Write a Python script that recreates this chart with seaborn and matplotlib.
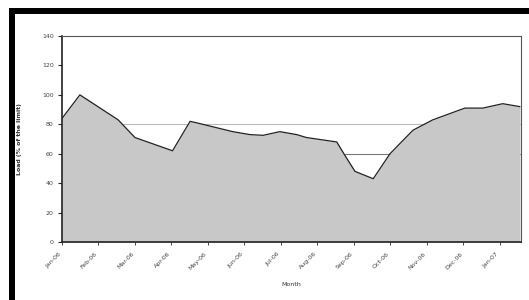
import numpy as np
import pandas as pd
import matplotlib
matplotlib.use("Agg")
import matplotlib.pyplot as plt
import seaborn as sns
from matplotlib.patches import Rectangle

# data (x in months from start, y in % of limit)
months = [0.0, 0.49, 1.54, 2.0, 3.03, 3.51, 3.69, 4.68, 5.15, 5.51, 5.97, 6.43,
          6.7, 7.53, 7.75, 8.03, 8.53, 8.99, 9.62, 10.16, 11.04, 11.53, 12.08, 12.55]
load = [84, 100, 83, 71, 62, 82, 81, 75, 73, 72.5, 75, 73,
        71, 68, 59, 48, 43, 60, 76, 83, 91, 91, 94, 92]
tick_labels = ["Jan-06", "Feb-06", "Mar-06", "Apr-06", "May-06", "Jun-06", "Jul-06",
               "Aug-06", "Sep-06", "Oct-06", "Nov-06", "Dec-06", "Jan-07"]
ref_levels = [80, 60]

df = pd.DataFrame({"month": months, "load": load})

sns.set_style("white")
fig = plt.figure(figsize=(5.29, 3.0), dpi=100)
ax = fig.add_axes([62 / 529, 1 - 242 / 300, (521 - 62) / 529, (242 - 36) / 300])

ax.axhline(ref_levels[0], color="#bcbcbc", lw=0.8, zorder=1)
ax.axhline(ref_levels[1], color="#7a7a7a", lw=0.8, zorder=1)
ax.fill_between(df["month"], df["load"], 0, color="#c8c8c8", lw=0, zorder=2)
sns.lineplot(data=df, x="month", y="load", color="#222222", lw=0.9, ax=ax, zorder=3)

ax.set_xlim(0, 12.58)
ax.set_ylim(0, 140)
ax.set_yticks(np.arange(0, 141, 20))
ax.set_xticks(np.arange(len(tick_labels)))
ax.set_xticklabels(tick_labels, rotation=45, ha="right", fontsize=4.5, color="#444444")
ax.tick_params(axis="y", labelsize=4.5, labelcolor="#444444", length=3, width=0.8,
               direction="out", left=True, pad=3)
ax.tick_params(axis="x", length=2.5, width=0.6, direction="out", bottom=True, pad=4)
ax.set_xlabel("Month", fontsize=4.5, color="#333333", labelpad=8)
ax.set_ylabel("Load (% of the limit)", fontsize=4.5, color="#333333",
              fontweight="bold", labelpad=14)
for s in ["left", "bottom"]:
    ax.spines[s].set_color("#222222")
    ax.spines[s].set_linewidth(1.2)
for s in ["top", "right"]:
    ax.spines[s].set_color("#555555")
    ax.spines[s].set_linewidth(0.8)

# thick black frame around the chart area
fig.patches.append(Rectangle((12 / 529, -0.2), 1.2, 1.2 - 11 / 300,
                             transform=fig.transFigure, fill=False,
                             edgecolor="black", lw=4.3))

fig.savefig("out.png", dpi=100)
